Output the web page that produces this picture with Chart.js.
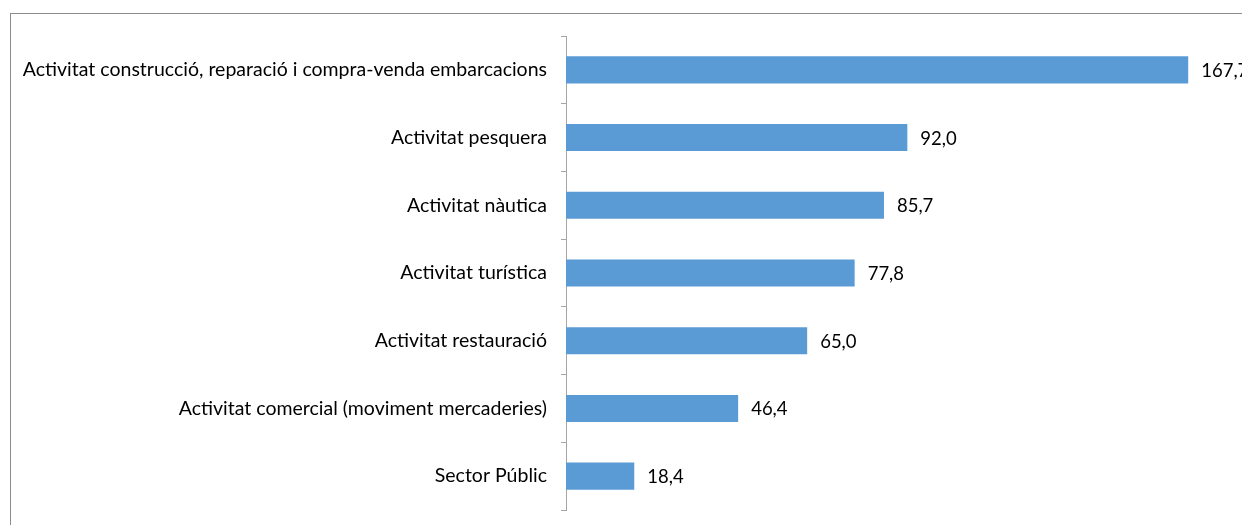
<!DOCTYPE html>
<html><head><meta charset="utf-8">
<script src="https://cdn.jsdelivr.net/npm/chart.js@4.4.1/dist/chart.umd.min.js"></script>
<style>
html,body{margin:0;padding:0;background:#fff;overflow:hidden;}
#frame{position:absolute;left:10px;top:13px;width:1300px;height:600px;border-top:1px solid #8c8c8c;border-left:1px solid #8c8c8c;}
#wrap{position:absolute;left:0;top:0;width:1242px;height:525px;}
</style></head>
<body>
<div id="frame"></div>
<div id="wrap"><canvas id="c" width="1242" height="525"></canvas></div>
<script>
const categories = [
  "Activitat construcció, reparació i compra-venda embarcacions",
  "Activitat pesquera",
  "Activitat nàutica",
  "Activitat turística",
  "Activitat restauració",
  "Activitat comercial (moviment mercaderies)",
  "Sector Públic"
];
const values = [167.7, 92.0, 85.7, 77.8, 65.0, 46.4, 18.4];
const xMax = 182.2;

const FONT = "Lato, 'Open Sans', sans-serif";

const valueLabels = {
  id: 'valueLabels',
  afterDatasetsDraw(chart) {
    const ctx = chart.ctx;
    const meta = chart.getDatasetMeta(0);
    ctx.save();
    ctx.font = "18.5px " + FONT;
    ctx.fillStyle = "#000";
    ctx.textBaseline = "middle";
    ctx.textAlign = "left";
    meta.data.forEach((bar, i) => {
      const txt = values[i].toFixed(1).replace('.', ',');
      ctx.fillText(txt, bar.x + 13, bar.y + 1);
    });
    ctx.restore();
  }
};

new Chart(document.getElementById('c'), {
  type: 'bar',
  data: {
    labels: categories,
    datasets: [{
      data: values,
      backgroundColor: '#5B9BD5',
      borderWidth: 0,
      categoryPercentage: 1,
      barPercentage: 0.4
    }]
  },
  options: {
    indexAxis: 'y',
    responsive: false,
    animation: false,
    devicePixelRatio: 1,
    layout: { padding: { top: 36, bottom: 15, left: 0, right: 0 } },
    plugins: { legend: { display: false }, tooltip: { enabled: false } },
    scales: {
      x: { display: false, min: 0, max: xMax },
      y: {
        afterFit(scale) { scale.width = 566; scale.paddingTop = 0; scale.paddingBottom = 0; },
        border: { display: true, color: '#a6a6a6', width: 1 },
        grid: { display: true, drawOnChartArea: false, drawTicks: true, tickLength: 5, color: '#a6a6a6', offset: true },
        ticks: { color: '#000', padding: 14, font: { family: FONT, size: 19.5 }, autoSkip: false }
      }
    }
  },
  plugins: [valueLabels]
});
</script>
</body></html>
